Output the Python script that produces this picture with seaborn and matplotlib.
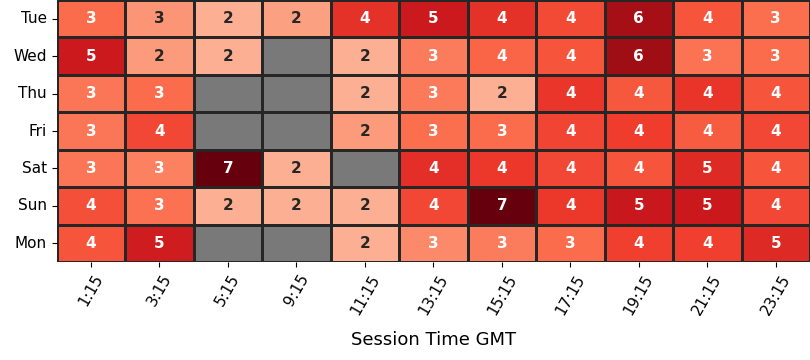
import numpy as np
import pandas as pd
import seaborn as sns
import matplotlib
matplotlib.use("Agg")
import matplotlib.pyplot as plt

days = ["Tue", "Wed", "Thu", "Fri", "Sat", "Sun", "Mon"]
times = ["1:15", "3:15", "5:15", "9:15", "11:15", "13:15", "15:15", "17:15", "19:15", "21:15", "23:15"]
nan = np.nan
# colour intensity per cell
tue = [3.45, 2.55, 2.0, 2.35, 4.6, 5.2, 4.6, 4.1, 6.1, 3.9, 3.4]
wed = [5.2, 2.45, 2.0, nan, 2.0, 3.1, 3.6, 3.9, 6.2, 3.3, 3.45]
thu = [3.25, 3.45, nan, nan, 2.0, 3.15, 2.0, 4.5, 3.85, 4.55, 3.9]
fri = [3.25, 4.15, nan, nan, 2.45, 3.4, 3.45, 4.2, 4.35, 3.8, 4.15]
sat = [3.25, 3.0, 7.0, 2.0, nan, 4.65, 4.45, 4.15, 3.9, 4.8, 3.9]
sun = [4.0, 3.35, 2.0, 2.0, 2.0, 4.15, 7.0, 4.45, 5.3, 5.25, 4.15]
mon = [3.9, 5.15, nan, nan, 2.0, 2.8, 3.1, 3.45, 4.3, 4.3, 4.8]

# annotated labels per cell
tue_lbl = ["3", "3", "2", "2", "4", "5", "4", "4", "6", "4", "3"]
wed_lbl = ["5", "2", "2", "", "2", "3", "4", "4", "6", "3", "3"]
thu_lbl = ["3", "3", "", "", "2", "3", "2", "4", "4", "4", "4"]
fri_lbl = ["3", "4", "", "", "2", "3", "3", "4", "4", "4", "4"]
sat_lbl = ["3", "3", "7", "2", "", "4", "4", "4", "4", "5", "4"]
sun_lbl = ["4", "3", "2", "2", "2", "4", "7", "4", "5", "5", "4"]
mon_lbl = ["4", "5", "", "", "2", "3", "3", "3", "4", "4", "5"]

df = pd.DataFrame([tue, wed, thu, fri, sat, sun, mon], index=days, columns=times)
labels = np.array([tue_lbl, wed_lbl, thu_lbl, fri_lbl, sat_lbl, sun_lbl, mon_lbl])

fig = plt.figure(figsize=(8.1, 3.6), dpi=100)
ax = fig.add_axes([0.07, 0.272, 0.93, 0.728])
ax.set_facecolor("#797979")
sns.heatmap(df, ax=ax, cmap="Reds", vmin=0, vmax=7, annot=labels, fmt="",
            annot_kws={"fontsize": 11, "fontweight": "bold"},
            linewidths=1.0, linecolor="#262626", cbar=False)
ax.set_xlabel("Session Time GMT", fontsize=13, labelpad=10)
ax.set_ylabel("")
ax.set_xticklabels(times, rotation=60, fontsize=11)
ax.set_yticklabels(days, rotation=0, fontsize=11)
fig.savefig("out.png", dpi=100)
